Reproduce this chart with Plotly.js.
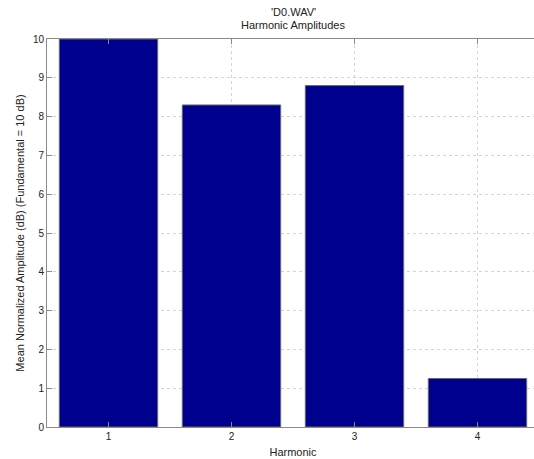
<!DOCTYPE html>
<html>
<head>
<meta charset="utf-8">
<script src="https://cdn.plot.ly/plotly-3.0.1.min.js"></script>
<style>
html,body{margin:0;padding:0;overflow:hidden;background:#fff;width:534px;height:459px;}
#chart{width:560px;height:459px;}
</style>
</head>
<body>
<div id="chart"></div>
<script>
const harmonics = [1, 2, 3, 4];
const amplitudes = [10, 8.3, 8.8, 1.25];
const yTicks = [0, 1, 2, 3, 4, 5, 6, 7, 8, 9, 10];
const titleLines = ["'D0.WAV'", "Harmonic Amplitudes"];

const FONT = 'Liberation Sans, Arial, sans-serif';

const trace = {
  type: 'bar',
  x: harmonics,
  y: amplitudes,
  width: 0.8,
  marker: {color: '#00008F', line: {color: '#6a6a6a', width: 1}},
  hoverinfo: 'none'
};

const axisCommon = {
  showline: true,
  linecolor: '#8a8a8a',
  linewidth: 1,
  mirror: 'ticks',
  ticks: 'inside',
  ticklen: 5,
  tickcolor: '#8a8a8a',
  showgrid: true,
  gridcolor: '#d4d4d4',
  griddash: 'dot',
  gridwidth: 1,
  zeroline: false,
  tickfont: {family: FONT, size: 10, color: '#222'}
};

const layout = {
  width: 560,
  height: 459,
  margin: {l: 47, r: 21, t: 39, b: 32},
  paper_bgcolor: '#fff',
  plot_bgcolor: '#fff',
  showlegend: false,
  font: {family: FONT, size: 10, color: '#222'},
  annotations: [
    {text: titleLines[0], xref: 'paper', yref: 'paper', x: 0.5, y: 1, xanchor: 'center', yanchor: 'middle', yshift: 27, showarrow: false, font: {family: FONT, size: 11, color: '#222'}},
    {text: titleLines[1], xref: 'paper', yref: 'paper', x: 0.5, y: 1, xanchor: 'center', yanchor: 'middle', yshift: 14, showarrow: false, font: {family: FONT, size: 11, color: '#222'}}
  ],
  xaxis: Object.assign({}, axisCommon, {
    range: [0.5, 4.5],
    tickvals: harmonics,
    ticktext: harmonics.map(String),
    title: {text: 'Harmonic', standoff: 7, font: {family: FONT, size: 11, color: '#222'}}
  }),
  yaxis: Object.assign({}, axisCommon, {
    range: [0, 10],
    tickvals: yTicks,
    ticktext: yTicks.map(String),
    title: {text: 'Mean Normalized Amplitude (dB) (Fundamental = 10 dB)', standoff: 6, font: {family: FONT, size: 11, color: '#222'}}
  })
};

Plotly.newPlot('chart', [trace], layout, {displayModeBar: false, staticPlot: true});
</script>
</body>
</html>
